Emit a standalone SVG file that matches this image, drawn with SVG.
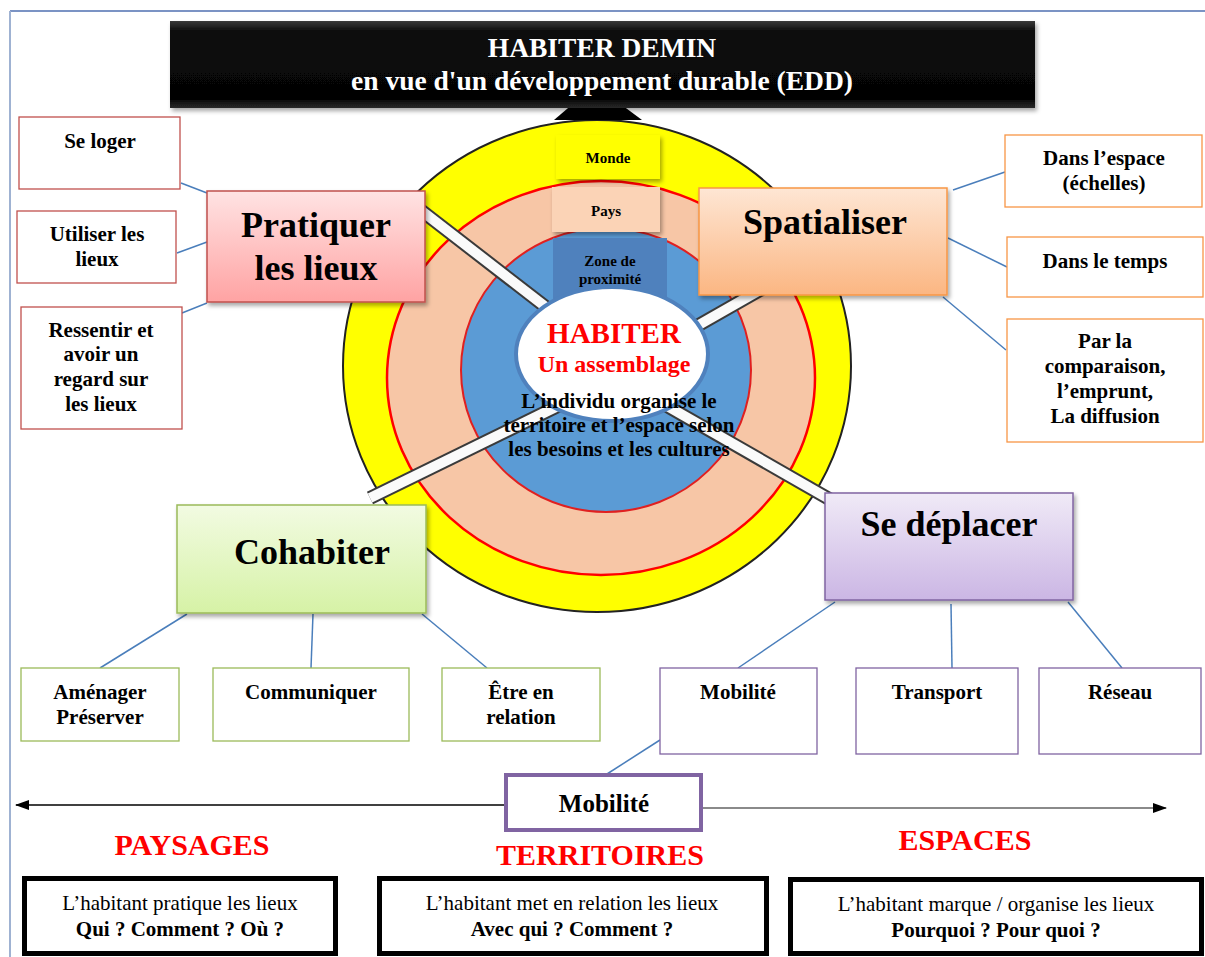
<svg xmlns="http://www.w3.org/2000/svg" width="1205" height="957" viewBox="0 0 1205 957">
<defs>
<filter id="sh" x="-10%" y="-10%" width="130%" height="140%"><feDropShadow dx="2" dy="3" stdDeviation="2" flood-color="#000" flood-opacity="0.35"/></filter>
<linearGradient id="gRed" x1="0" y1="0" x2="0" y2="1"><stop offset="0" stop-color="#ffe3e3"/><stop offset="1" stop-color="#ffa3a3"/></linearGradient>
<linearGradient id="gOr" x1="0" y1="0" x2="0" y2="1"><stop offset="0" stop-color="#fee6d4"/><stop offset="1" stop-color="#fbb682"/></linearGradient>
<linearGradient id="gGr" x1="0" y1="0" x2="0" y2="1"><stop offset="0" stop-color="#f2fbe2"/><stop offset="1" stop-color="#d6f2a6"/></linearGradient>
<linearGradient id="gPu" x1="0" y1="0" x2="0" y2="1"><stop offset="0" stop-color="#f0eaf7"/><stop offset="1" stop-color="#cbb6e4"/></linearGradient>
<linearGradient id="gBk" x1="0" y1="0" x2="0" y2="1"><stop offset="0" stop-color="#3a3a3a"/><stop offset="0.12" stop-color="#0a0a0a"/><stop offset="0.9" stop-color="#050505"/><stop offset="1" stop-color="#2a2a2a"/></linearGradient>
<marker id="ah" markerWidth="14" markerHeight="10" refX="13" refY="5" orient="auto" markerUnits="userSpaceOnUse"><path d="M0,0 L14,5 L0,10 Z" fill="#000"/></marker>
<style>
text{font-family:"Liberation Serif","Times New Roman",serif;font-weight:bold;fill:#000;text-anchor:middle}
.big{font-size:36px}
.sm{font-size:21px}
.lab{font-size:15px}
.reg{font-weight:normal}
.red{fill:#ff0000}
.con{stroke:#4a7ebb;stroke-width:1.5;fill:none}
.box{fill:#fff;stroke-width:1.3}
.r{stroke:#c0504d}.o{stroke:#f79646}.g{stroke:#9bbb59}.p{stroke:#8064a2}
.spk1{stroke:#3a3a3a;stroke-width:14;stroke-linecap:butt}
.spk2{stroke:#fafafa;stroke-width:10;stroke-linecap:butt}
</style>
</defs>
<rect width="1205" height="957" fill="#fff"/>
<line x1="10" y1="11" x2="1205" y2="11" stroke="#4f6fb0" stroke-width="1.5"/>
<line x1="10" y1="11" x2="10" y2="957" stroke="#9fb2d2" stroke-width="2"/>

<g id="rings">
<ellipse cx="597" cy="366" rx="254" ry="246" fill="#ffff00" stroke="#222" stroke-width="2"/>
<ellipse cx="601" cy="378" rx="214" ry="197" fill="#f7c6a6" stroke="#ff0000" stroke-width="2.5"/>
<ellipse cx="606" cy="370" rx="145" ry="142" fill="#5b9bd5" stroke="#e02020" stroke-width="2"/>
<path d="M554,120 L595,85 L642,120 Z" fill="#000"/>
</g>

<g id="spokes">
<line class="spk1" x1="405" y1="198" x2="560" y2="318"/><line class="spk2" x1="405" y1="198" x2="560" y2="318"/>
<line class="spk1" x1="795" y1="270" x2="690" y2="330"/><line class="spk2" x1="795" y1="270" x2="690" y2="330"/>
<line class="spk1" x1="370" y1="498" x2="560" y2="405"/><line class="spk2" x1="370" y1="498" x2="560" y2="405"/>
<line class="spk1" x1="660" y1="402" x2="845" y2="508"/><line class="spk2" x1="660" y1="402" x2="845" y2="508"/>
</g>

<g id="scales">
<rect x="556" y="135" width="104" height="44" fill="#ffff00" filter="url(#sh)"/>
<text class="lab" x="608" y="163">Monde</text>
<rect x="552" y="187" width="108" height="45" fill="#fbd3b6" filter="url(#sh)"/>
<text class="lab" x="606" y="216">Pays</text>
<rect x="553" y="238" width="114" height="80" fill="#4f81bd"/>
<text class="lab" x="610" y="266">Zone de</text>
<text class="lab" x="610" y="284">proximité</text>
</g>

<g id="center">
<ellipse cx="612" cy="354" rx="96" ry="67" fill="#fff" stroke="#4f81bd" stroke-width="4"/>
<text class="red" x="614" y="343" style="font-size:29px">HABITER</text>
<text class="red" x="614" y="372" style="font-size:24px">Un assemblage</text>
<text x="619" y="408" style="font-size:21px">L’individu organise le</text>
<text x="619" y="432" style="font-size:21px">territoire et l’espace selon</text>
<text x="619" y="456" style="font-size:21px">les besoins et  les cultures</text>
</g>

<g id="title">
<rect x="170" y="21" width="865" height="87" fill="url(#gBk)" filter="url(#sh)"/>
<text x="602" y="57" style="font-size:27.5px;fill:#fff">HABITER DEMIN</text>
<text x="602" y="90" style="font-size:27.5px;fill:#fff">en vue d'un développement durable (EDD)</text>
</g>

<g id="connectors">
<line class="con" x1="181" y1="183" x2="207" y2="193"/>
<line class="con" x1="177" y1="253" x2="207" y2="242"/>
<line class="con" x1="182" y1="313" x2="207" y2="303"/>
<line class="con" x1="953" y1="190" x2="1005" y2="172"/>
<line class="con" x1="948" y1="238" x2="1007" y2="267"/>
<line class="con" x1="943" y1="297" x2="1006" y2="350"/>
<line class="con" x1="187" y1="614" x2="100" y2="668"/>
<line class="con" x1="313" y1="614" x2="311" y2="668"/>
<line class="con" x1="422" y1="614" x2="487" y2="668"/>
<line class="con" x1="835" y1="602" x2="738" y2="668"/>
<line class="con" x1="951" y1="604" x2="952" y2="668"/>
<line class="con" x1="1068" y1="602" x2="1122" y2="668"/>
<line class="con" x1="660" y1="740" x2="607" y2="774"/>
<line x1="505" y1="805" x2="16" y2="805" stroke="#000" stroke-width="1.3" marker-end="url(#ah)"/>
<line x1="702" y1="808" x2="1166" y2="808" stroke="#8a8a8a" stroke-width="2" marker-end="url(#ah)"/>
</g>

<g id="pratiquer">
<rect x="207" y="191" width="218" height="111" fill="url(#gRed)" stroke="#c0504d" stroke-width="1.5" filter="url(#sh)"/>
<text class="big" x="316" y="237">Pratiquer</text>
<text class="big" x="316" y="280">les lieux</text>
</g>
<g id="seloger"><rect class="box r" x="19" y="117" width="161" height="72"/><text class="sm" x="100" y="148">Se loger</text></g>
<g id="utiliser"><rect class="box r" x="17" y="211" width="159" height="72"/><text class="sm" x="97" y="241">Utiliser les</text><text class="sm" x="97" y="266">lieux</text></g>
<g id="ressentir"><rect class="box r" x="21" y="307" width="161" height="122"/><text class="sm" x="101" y="337">Ressentir et</text><text class="sm" x="101" y="361">avoir un</text><text class="sm" x="101" y="386">regard sur</text><text class="sm" x="101" y="411">les lieux</text></g>

<g id="spatialiser">
<rect x="699" y="188" width="248" height="107" fill="url(#gOr)" stroke="#f79646" stroke-width="1.5" filter="url(#sh)"/>
<text class="big" x="825" y="234">Spatialiser</text>
</g>
<g id="espace"><rect class="box o" x="1005" y="135" width="197" height="72"/><text class="sm" x="1104" y="165">Dans l’espace</text><text class="sm" x="1104" y="190">(échelles)</text></g>
<g id="temps"><rect class="box o" x="1007" y="237" width="196" height="60"/><text class="sm" x="1105" y="268">Dans le temps</text></g>
<g id="comparaison"><rect class="box o" x="1007" y="319" width="196" height="123"/><text class="sm" x="1105" y="348">Par la</text><text class="sm" x="1105" y="373">comparaison,</text><text class="sm" x="1105" y="398">l’emprunt,</text><text class="sm" x="1105" y="423">La diffusion</text></g>

<g id="cohabiter">
<rect x="177" y="505" width="249" height="108" fill="url(#gGr)" stroke="#9bbb59" stroke-width="1.5" filter="url(#sh)"/>
<text class="big" x="312" y="564">Cohabiter</text>
</g>
<g id="amenager"><rect class="box g" x="21" y="668" width="158" height="73"/><text class="sm" x="100" y="699">Aménager</text><text class="sm" x="100" y="724">Préserver</text></g>
<g id="communiquer"><rect class="box g" x="213" y="668" width="196" height="73"/><text class="sm" x="311" y="699">Communiquer</text></g>
<g id="relation"><rect class="box g" x="442" y="668" width="158" height="73"/><text class="sm" x="521" y="699">Être en</text><text class="sm" x="521" y="724">relation</text></g>

<g id="deplacer">
<rect x="825" y="493" width="248" height="107" fill="url(#gPu)" stroke="#8064a2" stroke-width="1.5" filter="url(#sh)"/>
<text class="big" x="949" y="536">Se déplacer</text>
</g>
<g id="mobilite1"><rect class="box p" x="660" y="668" width="157" height="86"/><text class="sm" x="738" y="699">Mobilité</text></g>
<g id="transport"><rect class="box p" x="856" y="668" width="162" height="86"/><text class="sm" x="937" y="699">Transport</text></g>
<g id="reseau"><rect class="box p" x="1039" y="668" width="162" height="86"/><text class="sm" x="1120" y="699">Réseau</text></g>

<g id="mobilite2"><rect x="506" y="775" width="195" height="55" fill="#fff" stroke="#8064a2" stroke-width="4"/><text x="604" y="812" style="font-size:25px">Mobilité</text></g>

<g id="axis-labels">
<text class="red" x="192" y="855" style="font-size:30px">PAYSAGES</text>
<text class="red" x="600" y="865" style="font-size:30px">TERRITOIRES</text>
<text class="red" x="965" y="850" style="font-size:30px">ESPACES</text>
</g>

<g id="paysages"><rect x="24.5" y="878.5" width="311" height="75" fill="#fff" stroke="#000" stroke-width="5"/><text class="sm reg" x="180" y="910">L’habitant pratique les lieux</text><text class="sm" x="180" y="936">Qui ? Comment ? Où ?</text></g>
<g id="territoires"><rect x="379.5" y="878.5" width="387" height="75" fill="#fff" stroke="#000" stroke-width="5"/><text class="sm reg" x="572" y="910">L’habitant met en relation les lieux</text><text class="sm" x="572" y="936">Avec qui ? Comment ?</text></g>
<g id="espaces"><rect x="790.5" y="879.5" width="411" height="74" fill="#fff" stroke="#000" stroke-width="5"/><text class="sm reg" x="996" y="911">L’habitant marque / organise les lieux</text><text class="sm" x="996" y="937">Pourquoi ? Pour quoi ?</text></g>
</svg>
